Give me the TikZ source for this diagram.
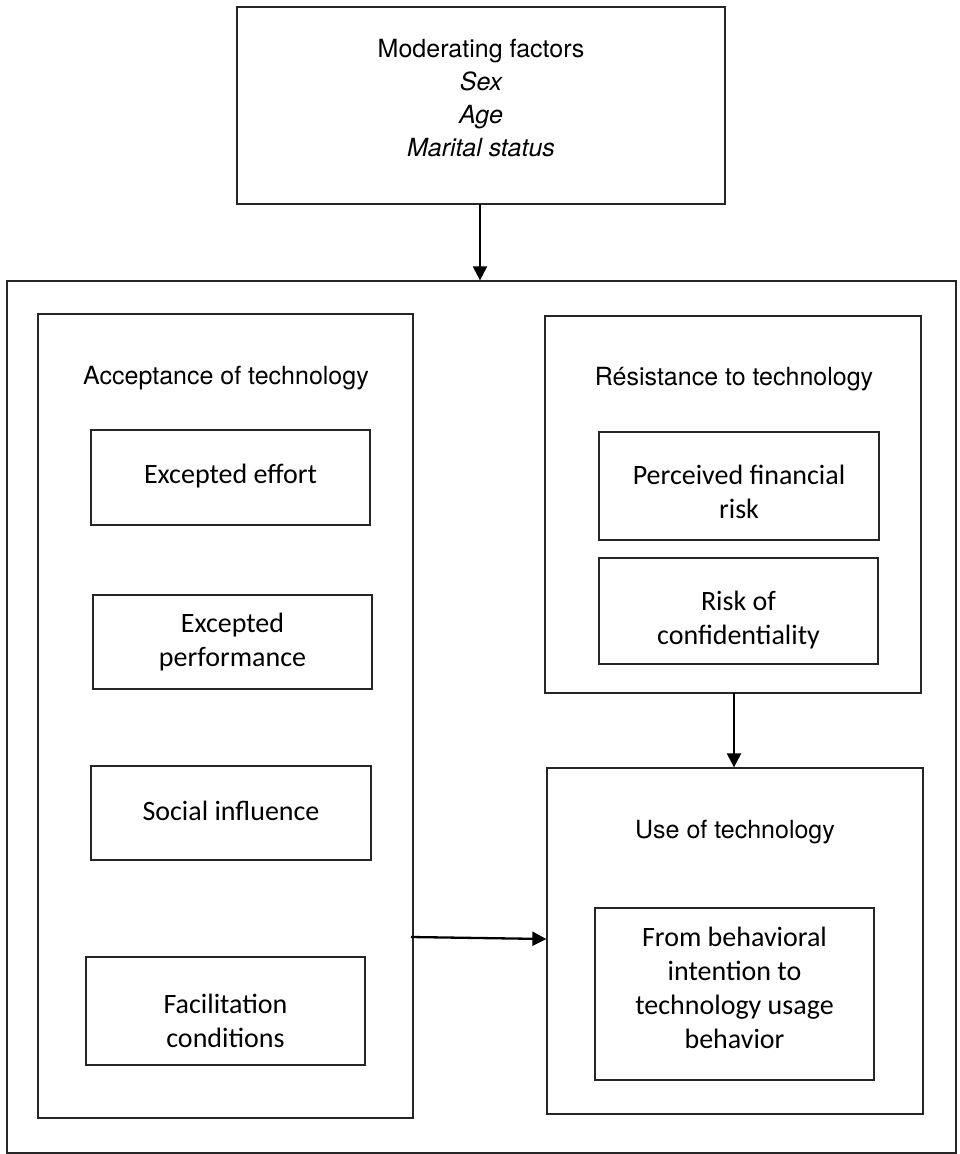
\documentclass[tikz,border=0pt]{standalone}
\usepackage{fontspec}
\newfontfamily\headf{TeX Gyre Heros}
\newfontfamily\bodyf{Carlito}
\usetikzlibrary{arrows.meta}
\begin{document}
\begin{tikzpicture}[x=1pt,y=-1pt,
  box/.style={draw=black!85, line width=1.3pt, rectangle, inner sep=0pt},
  txt/.style={align=center, inner sep=0pt, font=\bodyf\fontsize{28}{34}\selectfont},
  head/.style={align=center, inner sep=0pt, font=\headf\fontsize{25}{33}\selectfont},
  arr/.style={line width=2.3pt, -{Triangle[length=14pt,width=14pt]}}]
\useasboundingbox[fill=white] (0,0) rectangle (960,1154);
% big boxes
\node[box, minimum width=488pt, minimum height=197pt] (top) at (481,105.5) {};
\node[box, minimum width=949pt, minimum height=872pt] (outer) at (481.5,717) {};
\node[box, minimum width=375pt, minimum height=804pt] (left) at (225.5,716) {};
\node[box, minimum width=376pt, minimum height=377pt] (rtop) at (733,504.5) {};
\node[box, minimum width=376pt, minimum height=346pt] (use) at (735,941) {};
% headings
\node[head] (mod) at (481,98) {Moderating factors\\ \itshape Sex\\ \itshape Age\\ \itshape Marital status};
\node[head] (acc) at (226,378) {Acceptance of technology};
\node[head] (res) at (734,379) {Résistance to technology};
\node[head] (uot) at (735,832) {Use of technology};
% inner boxes
\node[box, minimum width=279pt, minimum height=95pt] (ee) at (230.5,477.5) {};
\node[box, minimum width=279pt, minimum height=94pt] (ep) at (232.5,642) {};
\node[box, minimum width=280pt, minimum height=94pt] (si) at (231,813) {};
\node[box, minimum width=279pt, minimum height=108pt] (fc) at (225.5,1011) {};
\node[box, minimum width=280pt, minimum height=108pt] (pfr) at (739,486) {};
\node[box, minimum width=279pt, minimum height=106pt] (roc) at (738.5,611) {};
\node[box, minimum width=279pt, minimum height=172pt] (fb) at (734.5,994) {};
% inner texts
\node[txt] (eeT) at (230.5,476.5) {Excepted effort};
\node[txt] (epT) at (232.5,642) {Excepted\\performance};
\node[txt] (siT) at (231,811) {Social influence};
\node[txt] (fcT) at (225.5,1021) {Facilitation\\conditions};
\node[txt] (pfrT) at (739,492) {Perceived financial\\risk};
\node[txt] (rocT) at (738.5,620) {Risk of\\confidentiality};
\node[txt] (fbT) at (734.5,988) {From behavioral\\intention to\\technology usage\\behavior};
% connectors
\draw[arr] (480,204) coordinate (a1) -- (a1 |- outer.north);
\draw[arr] (734,693) coordinate (a2) -- (a2 |- use.north);
\coordinate (a3) at (411,937);
\draw[arr] (a3) -- (use.west |- 0,939);
\end{tikzpicture}
\end{document}
